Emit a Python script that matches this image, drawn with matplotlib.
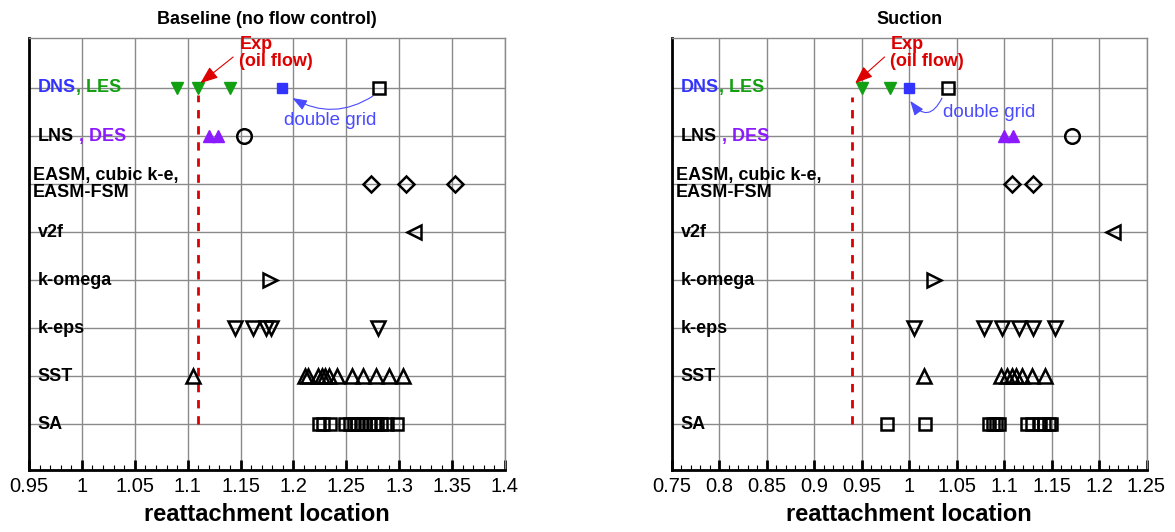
import matplotlib
matplotlib.use('Agg')
import matplotlib.pyplot as plt
from matplotlib.ticker import MultipleLocator

plt.rcParams['font.family'] = ['Liberation Sans', 'DejaVu Sans']

# row labels, top to bottom
row_names = ['DNS', 'LNS', 'EASM, cubic k-e,\nEASM-FSM', 'v2f', 'k-omega', 'k-eps', 'SST', 'SA']
row_pos = [8, 7, 6, 5, 4, 3, 2, 1]

# baseline (no flow control)
base_les = [1.090, 1.110, 1.140]
base_dns_fine = [1.189]
base_dns = [1.281]
base_des = [1.120, 1.129]
base_lns = [1.153]
base_easm = [1.273, 1.306, 1.353]
base_v2f = [1.314]
base_komega = [1.178]
base_keps = [1.145, 1.162, 1.174, 1.179, 1.280]
base_sst = [1.105, 1.211, 1.214, 1.223, 1.227, 1.230, 1.234, 1.241, 1.255, 1.266, 1.278, 1.290, 1.304]
base_sa = [1.224, 1.228, 1.235, 1.249, 1.253, 1.257, 1.260, 1.264, 1.268, 1.272, 1.276, 1.279,
           1.283, 1.288, 1.298]
base_exp = 1.110

# suction
suct_les = [0.950, 0.980]
suct_dns_fine = [1.000]
suct_dns = [1.041]
suct_des = [1.100, 1.109]
suct_lns = [1.172]
suct_easm = [1.108, 1.130]
suct_v2f = [1.215]
suct_komega = [1.026]
suct_keps = [1.005, 1.079, 1.098, 1.116, 1.130, 1.154]
suct_sst = [1.016, 1.097, 1.103, 1.108, 1.113, 1.119, 1.129, 1.143]
suct_sa = [0.977, 1.017, 1.084, 1.088, 1.091, 1.095, 1.124, 1.129, 1.138, 1.142, 1.147, 1.149]
suct_exp = 0.940

BLUE = '#3333ff'
GREEN = '#12a012'
PURPLE = '#8c1aff'
RED = '#dd0000'
GRID = '#8a8a8a'

open_kw = dict(mfc='none', mec='black', mew=1.8)

# series key -> (row, marker style)
styles = {
    'les': (8, dict(marker='v', ms=8.5, color=GREEN)),
    'dns_fine': (8, dict(marker='s', ms=7.5, color=BLUE)),
    'dns': (8, dict(marker='s', ms=8, **open_kw)),
    'des': (7, dict(marker='^', ms=8.5, color=PURPLE)),
    'lns': (7, dict(marker='o', ms=10.5, **open_kw)),
    'easm': (6, dict(marker='D', ms=8, **open_kw)),
    'v2f': (5, dict(marker='<', ms=9.5, **open_kw)),
    'komega': (4, dict(marker='>', ms=9.5, **open_kw)),
    'keps': (3, dict(marker='v', ms=10.5, **open_kw)),
    'sst': (2, dict(marker='^', ms=10, **open_kw)),
    'sa': (1, dict(marker='s', ms=8, **open_kw)),
}


def label_parts(ax, y, x, parts, **kw):
    # multi coloured label, pieces chained one after the other
    t = ax.text(x, y, parts[0][0], color=parts[0][1], transform=ax.get_yaxis_transform(),
                ha='left', va='center', fontsize=13, fontweight='bold', **kw)
    for txt, col in parts[1:]:
        t = ax.annotate(txt, xy=(1, 0), xycoords=t, ha='left', va='bottom', color=col,
                        fontsize=13, fontweight='bold')
    return t


def draw_panel(ax, series, exp, xmin, xmax, title, ann):
    ax.set_xlim(xmin, xmax)
    ax.set_ylim(0.05, 9.04)
    ax.xaxis.set_major_locator(MultipleLocator(0.05))
    ax.xaxis.set_minor_locator(MultipleLocator(0.01))
    ax.set_yticks(row_pos)
    ax.set_yticklabels([])
    ax.tick_params(axis='y', length=0)
    ax.tick_params(axis='x', which='major', direction='in', length=7, width=2, labelsize=14.5, pad=5)
    ax.tick_params(axis='x', which='minor', direction='in', length=3.5, width=0.8)
    ax.set_xticklabels(['{:g}'.format(round(v, 2)) for v in ax.get_xticks()])
    ax.grid(True, which='major', color=GRID, lw=1)
    ax.set_axisbelow(True)
    for s in ['left', 'bottom']:
        ax.spines[s].set_linewidth(2)
    for s in ['top', 'right']:
        ax.spines[s].set_color(GRID)
        ax.spines[s].set_linewidth(1)

    for key, vals in series.items():
        row, st = styles[key]
        ax.plot(vals, [row] * len(vals), ls='none', zorder=3, clip_on=False, **st)

    ax.plot([exp, exp], [1, ann['exp_top']], color=RED, lw=2, ls=(0, (3, 2.8)), zorder=2)

    ax.set_title(title, fontsize=13, fontweight='bold', pad=10)
    ax.set_xlabel('reattachment location', fontsize=17, fontweight='bold', labelpad=5)

    # row labels
    x0 = 0.018
    label_parts(ax, 8, x0, [('DNS', BLUE), (', LES', GREEN)])
    label_parts(ax, 7, x0, [('LNS', 'black'), (' , DES', PURPLE)])
    ax.text(0.008, 6, row_names[2], transform=ax.get_yaxis_transform(), ha='left', va='center',
            fontsize=13, fontweight='bold', linespacing=1.0)
    for name, y in zip(row_names[3:], row_pos[3:]):
        ax.text(x0, y, name, transform=ax.get_yaxis_transform(), ha='left', va='center',
                fontsize=13, fontweight='bold')

    # experiment annotation
    ax.text(ann['exp_text'][0], ann['exp_text'][1], 'Exp\n(oil flow)', color=RED, fontsize=13,
            fontweight='bold', ha='left', va='top', linespacing=1.0, clip_on=False)
    ax.annotate('', xy=ann['exp_head'], xytext=ann['exp_tail'], annotation_clip=False,
                arrowprops=dict(arrowstyle='-|>,head_length=0.9,head_width=0.35', color=RED,
                                lw=0.8, mutation_scale=12, shrinkA=0, shrinkB=0))

    # double grid annotation
    ax.text(ann['dg_text'][0], ann['dg_text'][1], 'double grid', color='#4a4aff', fontsize=13.5,
            ha='center', va='center')
    ax.annotate('', xy=ann['dg_head'], xytext=ann['dg_tail'],
                arrowprops=dict(arrowstyle='-|>,head_length=0.8,head_width=0.3', color='#4a4aff',
                                lw=0.8, mutation_scale=11, shrinkA=0, shrinkB=0,
                                connectionstyle='arc3,rad={}'.format(ann['dg_rad'])))


fig = plt.figure(figsize=(11.75, 5.32), dpi=100)
W, H = 1175.0, 532.0
ax1 = fig.add_axes([29 / W, 1 - 470 / H, 476 / W, 432 / H])
ax2 = fig.add_axes([672 / W, 1 - 470 / H, 474.5 / W, 432 / H])

base = {'les': base_les, 'dns_fine': base_dns_fine, 'dns': base_dns, 'des': base_des, 'lns': base_lns,
        'easm': base_easm, 'v2f': base_v2f, 'komega': base_komega, 'keps': base_keps,
        'sst': base_sst, 'sa': base_sa}
suct = {'les': suct_les, 'dns_fine': suct_dns_fine, 'dns': suct_dns, 'des': suct_des, 'lns': suct_lns,
        'easm': suct_easm, 'v2f': suct_v2f, 'komega': suct_komega, 'keps': suct_keps,
        'sst': suct_sst, 'sa': suct_sa}

draw_panel(ax1, base, base_exp, 0.95, 1.4, 'Baseline (no flow control)',
           dict(exp_top=7.85, exp_text=(1.149, 9.09), exp_tail=(1.143, 8.645), exp_head=(1.112, 8.10),
                dg_text=(1.235, 7.33), dg_tail=(1.275, 7.83), dg_head=(1.199, 7.79), dg_rad=-0.3))
draw_panel(ax2, suct, suct_exp, 0.75, 1.25, 'Suction',
           dict(exp_top=7.82, exp_text=(0.980, 9.09), exp_tail=(0.974, 8.645), exp_head=(0.943, 8.10),
                dg_text=(1.084, 7.48), dg_tail=(1.0345, 7.79), dg_head=(1.001, 7.73), dg_rad=-0.8))

fig.savefig('out.png', dpi=100)
